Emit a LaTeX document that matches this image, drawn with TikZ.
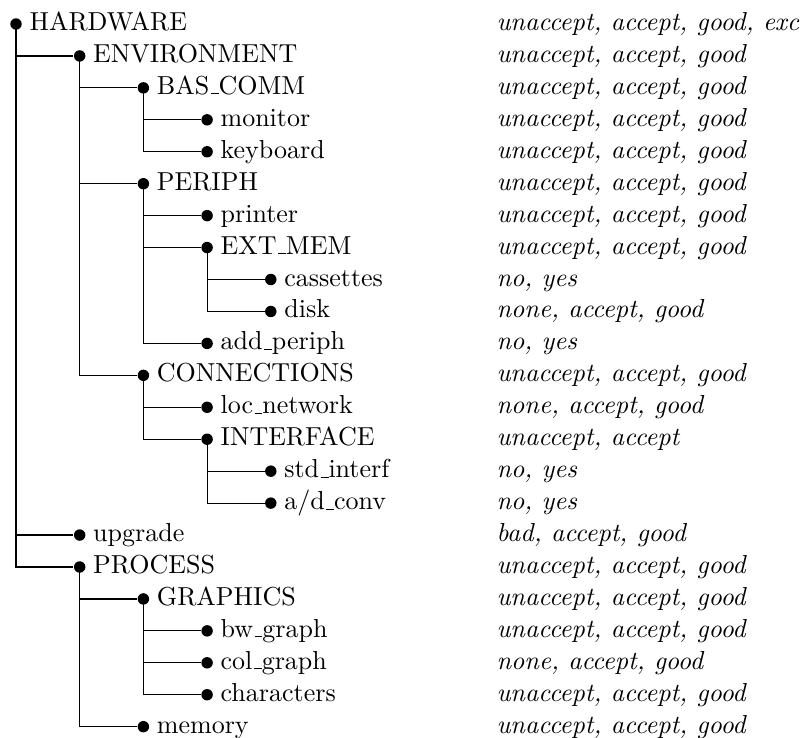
\documentclass[tikz,border=0pt]{standalone}
\newcommand\usc{\leavevmode\kern.06em\vbox{\hrule width.3em}}
\newcommand\treerow[5]{%
  \node[dotn] (#1) at ({16+63.7*#2},{24+31.94*#3}) {};
  \node[lbl] (#1-t) at ({29+63.7*#2},{30.5+31.94*#3}) {#4};
  \node[val] (#1-v) at (496,{30.5+31.94*#3}) {#5};}
\tikzset{
  dotn/.style={circle, fill=black, inner sep=0pt, minimum size=4.4pt},
  lbl/.style={anchor=base west, inner sep=0pt},
  val/.style={anchor=base west, inner sep=0pt, font=\itshape},
  conn/.style={line width=0.45pt}
}
\begin{document}
\begin{tikzpicture}[x=0.3846pt, y=-0.3846pt]
\useasboundingbox (0,0) rectangle (805,737);
\treerow{hw}{0}{0}{HARDWARE}{unaccept, accept, good, exc}
\treerow{env}{1}{1}{ENVIRONMENT}{unaccept, accept, good}
\treerow{bas}{2}{2}{BAS\usc COMM}{unaccept, accept, good}
\treerow{mon}{3}{3}{monitor}{unaccept, accept, good}
\treerow{key}{3}{4}{keyboard}{unaccept, accept, good}
\treerow{per}{2}{5}{PERIPH}{unaccept, accept, good}
\treerow{pri}{3}{6}{printer}{unaccept, accept, good}
\treerow{ext}{3}{7}{EXT\usc MEM}{unaccept, accept, good}
\treerow{cas}{4}{8}{cassettes}{no, yes}
\treerow{dis}{4}{9}{disk}{none, accept, good}
\treerow{add}{3}{10}{add\usc periph}{no, yes}
\treerow{con}{2}{11}{CONNECTIONS}{unaccept, accept, good}
\treerow{loc}{3}{12}{loc\usc network}{none, accept, good}
\treerow{int}{3}{13}{INTERFACE}{unaccept, accept}
\treerow{std}{4}{14}{std\usc interf}{no, yes}
\treerow{adc}{4}{15}{a/d\usc conv}{no, yes}
\treerow{upg}{1}{16}{upgrade}{bad, accept, good}
\treerow{pro}{1}{17}{PROCESS}{unaccept, accept, good}
\treerow{gra}{2}{18}{GRAPHICS}{unaccept, accept, good}
\treerow{bwg}{3}{19}{bw\usc graph}{unaccept, accept, good}
\treerow{col}{3}{20}{col\usc graph}{none, accept, good}
\treerow{cha}{3}{21}{characters}{unaccept, accept, good}
\treerow{mem}{2}{22}{memory}{unaccept, accept, good}
\foreach \p/\c in {hw/env, hw/upg, hw/pro,
                   env/bas, env/per, env/con,
                   bas/mon, bas/key,
                   per/pri, per/ext, per/add,
                   ext/cas, ext/dis,
                   con/loc, con/int,
                   int/std, int/adc,
                   pro/gra, pro/mem,
                   gra/bwg, gra/col, gra/cha}
  \draw[conn] (\p.center) |- (\c);
\end{tikzpicture}
\end{document}
